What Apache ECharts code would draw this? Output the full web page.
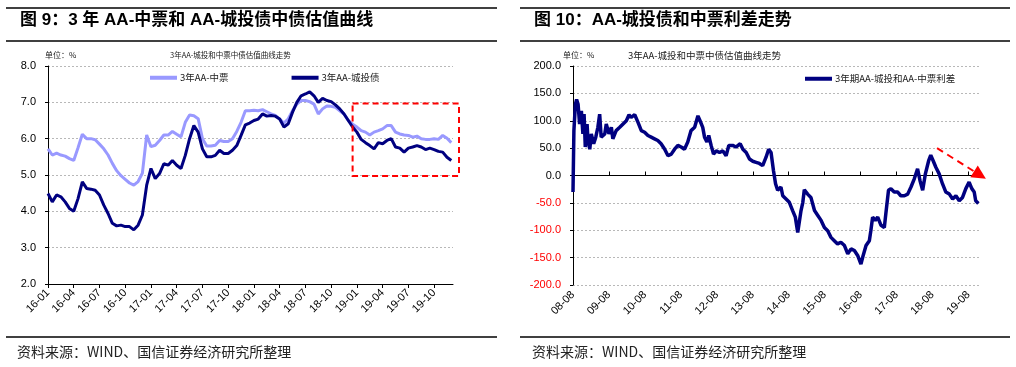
<!DOCTYPE html>
<html><head><meta charset="utf-8">
<script src="https://cdn.jsdelivr.net/npm/echarts@6/dist/echarts.min.js"></script>
<style>html,body{margin:0;padding:0;background:#fff}#c{width:1016px;height:367px}</style>
</head><body><div id="c"></div>
<script>
// ---------- Left chart: 3Y AA yields (months since 2016-01, half-month steps) ----------
const leftTickLabels = ['16-01','16-04','16-07','16-10','17-01','17-04','17-07','17-10','18-01','18-04','18-07','18-10','19-01','19-04','19-07','19-10'];
const leftStepMonths = 0.5;
const mtnYield = [
  5.72,5.55,5.60,5.55,5.52,5.45,5.40,5.75,6.12,6.00,
  6.00,5.97,5.85,5.72,5.55,5.32,5.12,4.98,4.88,4.78,
  4.72,4.82,5.05,6.10,5.78,5.82,5.95,6.10,6.10,6.20,
  6.12,6.05,6.45,6.65,6.63,6.55,6.00,5.80,5.80,5.82,
  5.95,5.92,5.92,6.00,6.20,6.45,6.77,6.77,6.78,6.77,
  6.80,6.74,6.68,6.64,6.54,6.43,6.55,6.77,6.95,7.05,
  7.05,7.02,6.95,6.68,6.82,6.90,6.89,6.86,6.77,6.68,
  6.50,6.40,6.32,6.22,6.18,6.10,6.18,6.22,6.27,6.36,
  6.36,6.18,6.13,6.10,6.09,6.04,6.07,6.00,5.98,5.98,
  6.00,5.98,6.09,6.01,5.89
];
const lgfvYield = [
  4.49,4.26,4.45,4.40,4.26,4.08,4.00,4.35,4.81,4.63,
  4.61,4.58,4.45,4.17,3.94,3.67,3.60,3.62,3.58,3.58,
  3.49,3.62,3.90,4.72,5.18,4.90,5.04,5.31,5.27,5.40,
  5.27,5.18,5.54,6.00,6.36,6.18,5.72,5.50,5.50,5.54,
  5.68,5.59,5.59,5.68,5.81,6.09,6.38,6.43,6.50,6.54,
  6.68,6.62,6.64,6.62,6.54,6.32,6.41,6.73,7.00,7.18,
  7.23,7.29,7.18,7.00,7.11,7.05,7.02,6.93,6.82,6.68,
  6.50,6.32,6.18,5.98,5.89,5.81,5.72,5.89,5.86,5.95,
  6.00,5.77,5.74,5.63,5.74,5.77,5.81,5.77,5.70,5.74,
  5.70,5.65,5.63,5.49,5.40
];

// ---------- Right chart: spread (months since 2008-08) ----------
const rightTickLabels = ['08-08','09-08','10-08','11-08','12-08','13-08','14-08','15-08','16-08','17-08','18-08','19-08'];
const spreadMonths = [
  0,0.3,0.8,1.2,1.7,2.2,2.8,3.3,3.7,4.1,4.7,5.0,5.6,6.1,6.9,7.6,8.3,8.9,9.4,10.6,
  11.1,12.0,12.8,13.3,14.4,15.6,16.7,17.8,18.7,19.4,20.6,21.7,22.8,23.9,25.0,26.1,27.2,28.3,29.4,30.6,
  31.7,32.8,33.9,35.0,36.1,37.2,38.3,39.4,40.6,41.7,42.4,43.3,43.9,44.7,45.3,46.1,46.9,47.8,48.9,50.0,
  51.1,52.0,53.3,54.4,55.8,56.7,57.8,58.9,60.0,61.1,62.2,63.3,64.4,65.3,66.1,66.9,67.6,68.3,69.4,70.0,
  71.1,72.2,73.3,74.2,75.0,75.6,76.1,76.7,77.2,78.3,79.4,80.6,81.7,82.8,83.9,85.0,86.1,87.2,88.3,89.4,
  90.6,91.7,92.8,93.9,95.0,96.1,96.7,97.8,98.9,99.4,100.0,100.9,101.7,102.8,103.9,104.4,105.3,106.1,107.2,108.3,
  109.4,110.6,111.7,112.8,113.9,115.0,115.8,116.7,117.6,118.7,119.4,120.2,121.1,122.2,123.3,124.4,125.6,126.7,127.8,128.9,
  130.0,131.1,132.2,133.1,133.9,134.4,135.3
];
const spreadValues = [
  -30,82,130,139,130,94,118,76,112,52,94,64,48,76,58,70,88,112,70,76,
  94,76,88,67,82,88,94,100,111,106,111,97,82,79,73,70,67,64,58,48,
  36,39,48,55,52,48,61,82,88,109,100,88,70,61,73,55,39,45,42,45,
  36,55,55,52,58,48,42,30,26,24,22,18,33,48,42,9,-15,-27,-21,-37,
  -43,-49,-64,-76,-104,-101,-64,-49,-26,-34,-40,-64,-73,-82,-95,-101,-113,-119,-125,-122,
  -128,-143,-134,-137,-146,-162,-149,-128,-119,-101,-76,-82,-76,-91,-95,-70,-27,-24,-30,-30,
  -37,-37,-34,-21,-6,12,-9,-27,3,27,37,27,15,3,-15,-30,-34,-43,-37,-46,
  -40,-24,-12,-24,-30,-46,-51
];

const FONT = "'Liberation Sans', Arial, 'Noto Sans CJK SC', sans-serif";
const CJK = "'Noto Sans CJK SC', 'Liberation Sans', sans-serif";
const LIGHT = '#9999FF', NAVY = '#000080';

const chart = echarts.init(document.getElementById('c'), null, {renderer: 'canvas'});

const axisLabelBase = {fontFamily: FONT, fontSize: 11, color: '#000'};
const gridDotted = {show: true, lineStyle: {color: '#b8b8b8', type: [2, 2], width: 1}};

function hline(x1, x2, y) {
  return {type: 'line', shape: {x1: x1, y1: y, x2: x2, y2: y}, style: {stroke: '#000', lineWidth: 1.5}, silent: true};
}
function txt(x, y, text, size, extra) {
  return Object.assign({type: 'text', x: x, y: y, silent: true,
    style: {text: text, fontSize: size, fontFamily: CJK, fill: '#222', verticalAlign: 'middle', align: 'left'}}, extra || {});
}

const baseGraphic = [
  hline(6, 497, 8), hline(6, 497, 41), hline(6, 497, 337),
  hline(520, 1010, 8), hline(520, 1010, 41), hline(520, 1010, 337),
  txt(45, 55, '单位：%', 8),
  txt(170, 55, '3年AA-城投和中票中债估值曲线走势', 7.5),
  txt(563, 55, '单位：%', 8),
  txt(628, 55, '3年AA-城投和中票中债估值曲线走势', 9.5),
  txt(17, 352, '资料来源：WIND、国信证券经济研究所整理', 14),
  txt(532, 352, '资料来源：WIND、国信证券经济研究所整理', 14)
];

const option = {
  animation: false,
  backgroundColor: '#fff',
  title: [
    {text: '图 9：3 年 AA-中票和 AA-城投债中债估值曲线', left: 20, top: 12, padding: 0,
     textStyle: {fontSize: 17, fontWeight: 'bold', color: '#000', fontFamily: FONT}},
    {text: '图 10：AA-城投债和中票利差走势', left: 534, top: 12, padding: 0,
     textStyle: {fontSize: 17, fontWeight: 'bold', color: '#000', fontFamily: FONT}}
  ],
  legend: [
    {left: 150, top: 73, padding: 0, itemGap: 63, itemWidth: 27, itemHeight: 4, icon: 'rect',
     data: ['3年AA-中票', '3年AA-城投债'], textStyle: {fontFamily: CJK, fontSize: 9.5, color: '#222', padding: [0,0,0,-2]}},
    {left: 805, top: 74, padding: 0, itemWidth: 27, itemHeight: 4, icon: 'rect',
     data: ['3年期AA-城投和AA-中票利差'], textStyle: {fontFamily: CJK, fontSize: 9.5, color: '#222', padding: [0,0,0,-2]}}
  ],
  grid: [
    {left: 48, top: 66, width: 405, height: 218},
    {left: 573, top: 66, width: 406, height: 219}
  ],
  xAxis: [
    {gridIndex: 0, type: 'value', min: 0, max: 47.2, interval: 3,
     axisLine: {show: true, onZero: false, lineStyle: {color: '#000', width: 1}},
     axisTick: {show: true, length: 4, lineStyle: {color: '#000'}},
     axisLabel: Object.assign({}, axisLabelBase, {rotate: 45, margin: 7, showMaxLabel: false,
       formatter: function (v) { const i = Math.round(v / 3); return (Math.abs(v - i * 3) < 1e-6 && leftTickLabels[i]) ? leftTickLabels[i] : ''; }}),
     splitLine: {show: false}},
    {gridIndex: 1, type: 'value', min: 0, max: 135.5, interval: 12,
     axisLine: {show: false, onZero: false},
     axisTick: {show: false},
     axisLabel: Object.assign({}, axisLabelBase, {rotate: 45, margin: 8, showMaxLabel: false,
       formatter: function (v) { const i = Math.round(v / 12); return (Math.abs(v - i * 12) < 1e-6 && rightTickLabels[i]) ? rightTickLabels[i] : ''; }}),
     splitLine: {show: false}},
    {gridIndex: 1, type: 'value', min: 0, max: 135.5, interval: 12, position: 'top',
     axisLine: {show: true, onZero: true, lineStyle: {color: '#000', width: 1}},
     axisTick: {show: true, length: 4, lineStyle: {color: '#000'}},
     axisLabel: {show: false}, splitLine: {show: false}}
  ],
  yAxis: [
    {gridIndex: 0, type: 'value', min: 2, max: 8, interval: 1,
     axisLine: {show: true, lineStyle: {color: '#000', width: 1}},
     axisTick: {show: true, length: 3, lineStyle: {color: '#000'}},
     axisLabel: Object.assign({}, axisLabelBase, {margin: 12, formatter: function (v) { return v.toFixed(1); }}),
     splitLine: gridDotted},
    {gridIndex: 1, type: 'value', min: -200, max: 200, interval: 50,
     axisLine: {show: true, lineStyle: {color: '#000', width: 1}},
     axisTick: {show: true, length: 3, lineStyle: {color: '#000'}},
     axisLabel: Object.assign({}, axisLabelBase, {margin: 12,
       formatter: function (v) { return v.toFixed(1); },
       color: function (v) { return Number(v) < 0 ? '#FF0000' : '#000'; }}),
     splitLine: gridDotted}
  ],
  series: [
    {name: '3年AA-中票', type: 'line', xAxisIndex: 0, yAxisIndex: 0, symbol: 'none', color: LIGHT,
     lineStyle: {color: LIGHT, width: 3}, data: mtnYield.map(function (v, i) { return [i * leftStepMonths, v]; })},
    {name: '3年AA-城投债', type: 'line', xAxisIndex: 0, yAxisIndex: 0, symbol: 'none', color: NAVY,
     lineStyle: {color: NAVY, width: 3}, data: lgfvYield.map(function (v, i) { return [i * leftStepMonths, v]; })},
    {name: '3年期AA-城投和AA-中票利差', type: 'line', xAxisIndex: 1, yAxisIndex: 1, symbol: 'none', color: NAVY,
     lineStyle: {color: NAVY, width: 3.5}, data: spreadValues.map(function (v, i) { return [spreadMonths[i], v]; })}
  ],
  graphic: baseGraphic
};

chart.setOption(option);

// Annotations (red dashed box on left, dashed arrow on right) anchored in data space
const p1 = chart.convertToPixel({xAxisIndex: 0, yAxisIndex: 0}, [35.5, 6.97]);
const p2 = chart.convertToPixel({xAxisIndex: 0, yAxisIndex: 0}, [47.9, 4.97]);
const a1 = chart.convertToPixel({xAxisIndex: 1, yAxisIndex: 1}, [121.5, 50]);
const a2 = chart.convertToPixel({xAxisIndex: 1, yAxisIndex: 1}, [137.8, -6]);
const dx = a2[0] - a1[0], dy = a2[1] - a1[1], len = Math.sqrt(dx * dx + dy * dy);
const ux = dx / len, uy = dy / len, head = 14, hw = 7;
const bx = a2[0] - ux * head, by = a2[1] - uy * head;

const annotations = [
  {type: 'rect', silent: true, z: 100,
   shape: {x: p1[0], y: p1[1], width: p2[0] - p1[0], height: p2[1] - p1[1]},
   style: {fill: 'none', stroke: '#FF0000', lineWidth: 2, lineDash: [6, 4]}},
  {type: 'line', silent: true, z: 100,
   shape: {x1: a1[0], y1: a1[1], x2: bx, y2: by},
   style: {stroke: '#FF0000', lineWidth: 2, lineDash: [7, 5]}},
  {type: 'polygon', silent: true, z: 100,
   shape: {points: [[a2[0], a2[1]], [bx - uy * hw, by + ux * hw], [bx + uy * hw, by - ux * hw]]},
   style: {fill: '#FF0000'}}
];
chart.setOption({graphic: baseGraphic.concat(annotations)});
</script>
</body></html>
